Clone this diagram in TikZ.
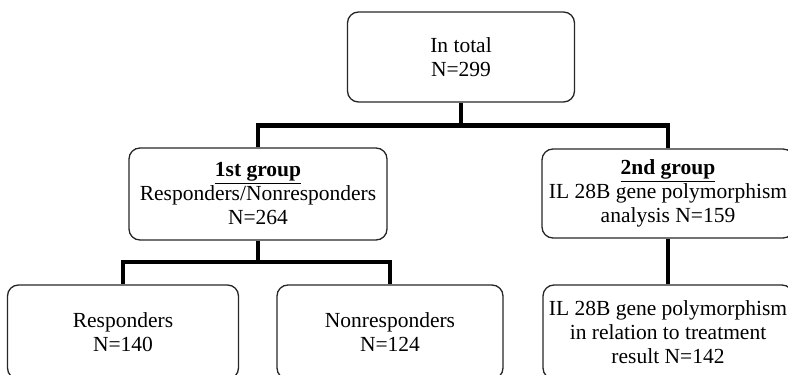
\documentclass[tikz,border=0pt]{standalone}
\usepackage{fontspec}
\setmainfont{Liberation Serif}
\begin{document}
\begin{tikzpicture}[x=1pt,y=1pt,
  box/.style={draw=black!85, line width=1.3pt, rounded corners=11pt, inner sep=0pt,
    align=center, font=\fontsize{21.5}{24}\selectfont},
  conn/.style={draw=black, line width=4.8pt}]
\useasboundingbox (0,0) rectangle (788,-375);
\node[box, minimum width=227, minimum height=90] (top) at (461,-57) {In total\\N=299};
\node[box, minimum width=258, minimum height=92] (g1) at (258,-194) {\underline{\textbf{1st group}}\\Responders/Nonresponders\\N=264};
\node[box, minimum width=252, minimum height=89] (g2) at (668,-193.5) {\underline{\textbf{2nd group}}\\IL 28B gene polymorphism\\analysis N=159};
\node[box, minimum width=231, minimum height=94] (r) at (123,-332) {Responders\\N=140};
\node[box, minimum width=226, minimum height=94] (nr) at (390,-332) {Nonresponders\\N=124};
\node[box, minimum width=250, minimum height=94] (il) at (668,-332) {IL 28B gene polymorphism\\in relation to treatment\\result N=142};
\coordinate (j1) at (461,-125.5);
\coordinate (j2) at (258,-262);
\draw[conn] (top.south) -- (j1);
\draw[conn] (g1.north) |- (j1) -| (g2.north);
\draw[conn] (g1.south) -- (j2);
\draw[conn] (r.north) |- (j2) -| (nr.north);
\draw[conn] (g2.south) -- (il.north);
\end{tikzpicture}
\end{document}
